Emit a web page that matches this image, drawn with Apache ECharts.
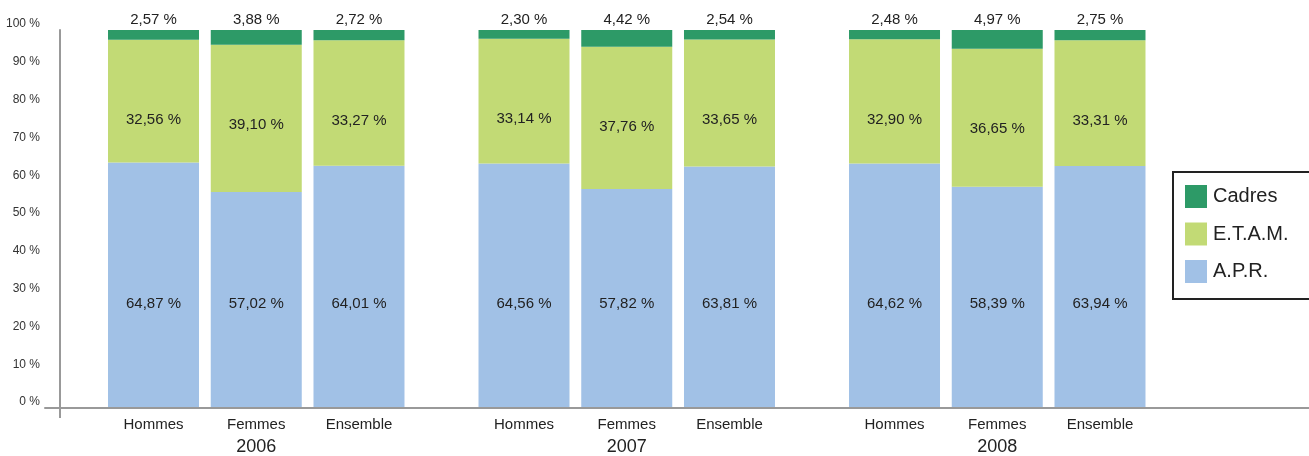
<!DOCTYPE html>
<html><head><meta charset="utf-8">
<script src="https://cdn.jsdelivr.net/npm/echarts@6/dist/echarts.min.js"></script>
<style>html,body{margin:0;padding:0;background:#fff}#c{width:1309px;height:456px}</style>
</head><body><div id="c"></div>
<script>
const years = ['2006', '2007', '2008'];
const groups = ['Hommes', 'Femmes', 'Ensemble'];
// values per group, across years 2006, 2007, 2008
const cadres = { Hommes: [2.57, 2.30, 2.48], Femmes: [3.88, 4.42, 4.97], Ensemble: [2.72, 2.54, 2.75] };
const etam   = { Hommes: [32.56, 33.14, 32.90], Femmes: [39.10, 37.76, 36.65], Ensemble: [33.27, 33.65, 33.31] };
const apr    = { Hommes: [64.87, 64.56, 64.62], Femmes: [57.02, 57.82, 58.39], Ensemble: [64.01, 63.81, 63.94] };

const COLORS = { cadres: '#2d9a67', etam: '#c2da75', apr: '#a1c1e6' };
const FONT = '"Liberation Sans", Arial, sans-serif';
const fmt = v => v.toFixed(2).replace('.', ',') + ' %';

const series = [];
const common = { type: 'bar', barWidth: 91, barGap: '12.9%', barCategoryGap: '20%', xAxisIndex: 0, yAxisIndex: 0 };
groups.forEach(g => {
  series.push(Object.assign({}, common, {
    name: 'lbl' + g, stack: g, data: [0, 0, 0],
    itemStyle: { color: 'transparent' }, silent: true,
    label: { show: true, position: 'bottom', distance: 10, formatter: g,
      fontFamily: FONT, fontSize: 15, color: '#222' }
  }));
});
groups.forEach(g => {
  series.push(Object.assign({}, common, {
    name: 'A.P.R.', stack: g, data: apr[g],
    itemStyle: { color: COLORS.apr },
    label: { show: true, position: 'insideBottom', distance: 96,
      formatter: p => fmt(p.value), fontFamily: FONT, fontSize: 15, color: '#222' }
  }));
  series.push(Object.assign({}, common, {
    name: 'E.T.A.M.', stack: g, data: etam[g],
    itemStyle: { color: COLORS.etam },
    label: { show: true, position: 'insideTop', distance: 73,
      formatter: p => fmt(p.value), fontFamily: FONT, fontSize: 15, color: '#222' }
  }));
  series.push(Object.assign({}, common, {
    name: 'Cadres', stack: g, data: cadres[g],
    itemStyle: { color: COLORS.cadres },
    label: { show: true, position: 'top', distance: 3,
      formatter: p => fmt(p.value), fontFamily: FONT, fontSize: 15, color: '#222' }
  }));
});

const chart = echarts.init(document.getElementById('c'), null, { renderer: 'canvas' });
const gridLeft = 45, gridBottom = 48;
chart.setOption({
  animation: false,
  grid: [
    { left: 71, right: 126.5, top: 30, bottom: gridBottom },
    { left: gridLeft, right: 0, top: 30, bottom: gridBottom }
  ],
  legend: {
    data: ['Cadres', 'E.T.A.M.', 'A.P.R.'],
    orient: 'vertical', left: 1173, top: 172,
    borderColor: '#222', borderWidth: 2, borderRadius: 0,
    padding: [13, 40, 16, 12],
    itemWidth: 22, itemHeight: 23, itemGap: 14.5,
    icon: 'rect',
    textStyle: { fontFamily: FONT, fontSize: 20, color: '#222', padding: [0, 0, 0, 1] }
  },
  xAxis: [
    { type: 'category', gridIndex: 0, data: years,
      axisLine: { show: false }, axisTick: { show: false },
      axisLabel: { margin: 31, fontFamily: FONT, fontSize: 18, color: '#222' } },
    { type: 'value', gridIndex: 1, min: 0, max: 1,
      axisLine: { show: true, onZero: false, lineStyle: { color: '#999', width: 2 } },
      axisTick: { show: false }, axisLabel: { show: false }, splitLine: { show: false } }
  ],
  yAxis: [
    { type: 'value', gridIndex: 0, min: 0, max: 100, show: false },
    { type: 'value', gridIndex: 1, min: 0, max: 100, interval: 10, offset: -15,
      axisLine: { show: true, onZero: false, lineStyle: { color: '#999', width: 2 } },
      axisTick: { show: false },
      splitLine: { show: false },
      axisLabel: { formatter: '{value} %', margin: 20, verticalAlign: 'bottom',
        fontFamily: '"Liberation Sans Narrow", ' + FONT,
        fontSize: 12, color: '#333' } }
  ],
  series: series
});
// short tail of the vertical axis below the baseline
const base = chart.convertToPixel({ gridIndex: 1 }, [0, 0]);
chart.setOption({ graphic: [{ type: 'line', shape: { x1: gridLeft + 15, y1: base[1], x2: gridLeft + 15, y2: base[1] + 10 },
  style: { stroke: '#999', lineWidth: 2 } }] });
</script></body></html>
